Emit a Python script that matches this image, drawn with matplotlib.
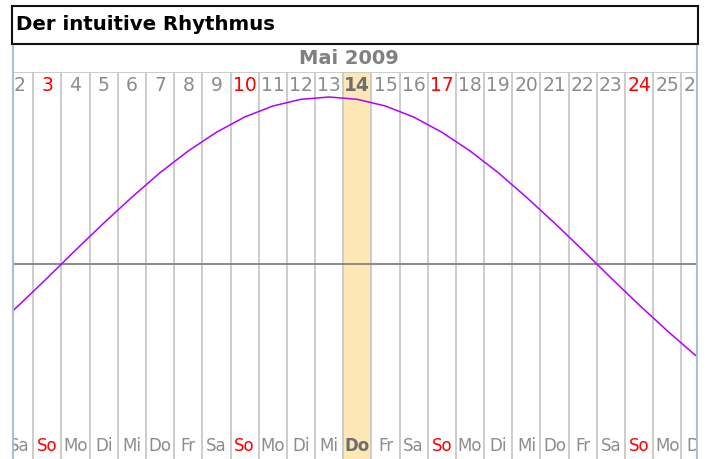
import matplotlib
matplotlib.use("Agg")
import matplotlib.pyplot as plt
from matplotlib.patches import Rectangle
from matplotlib.lines import Line2D
import matplotlib.transforms as mtransforms

# data
days = list(range(1, 27))
weekdays = ['Fr', 'Sa', 'So', 'Mo', 'Di', 'Mi', 'Do', 'Fr', 'Sa', 'So', 'Mo', 'Di', 'Mi',
            'Do', 'Fr', 'Sa', 'So', 'Mo', 'Di', 'Mi', 'Do', 'Fr', 'Sa', 'So', 'Mo', 'Di']
rhythm = [-0.40, -0.245, -0.083, 0.083, 0.245, 0.40, 0.547, 0.677, 0.789, 0.88, 0.946, 0.986, 1.0,
          0.986, 0.946, 0.88, 0.789, 0.677, 0.547, 0.40, 0.245, 0.083, -0.083, -0.245, -0.40, -0.547]
today = 14
title = 'Der intuitive Rhythmus'
month_label = 'Mai 2009'

W, H = 712, 459
fig = plt.figure(figsize=(W / 100, H / 100), dpi=100)

def fx(px):
    return px / W

def fy(py):
    return 1 - py / H

# title box
fig.patches.append(Rectangle((fx(12), fy(44)), fx(686), 38 / H, transform=fig.transFigure,
                             facecolor='white', edgecolor='#111111', linewidth=1.5))
fig.text(fx(16), fy(25), title, fontsize=14.2, fontweight='bold', color='black',
         va='center', ha='left')

# outer frame (blue sides)
for px in (13, 697):
    fig.lines.append(Line2D([fx(px), fx(px)], [fy(46), 0], transform=fig.transFigure,
                            color='#a8bfdc', linewidth=1.5))

fig.text(fx(349), fy(59), month_label, fontsize=14, fontweight='bold', color='#808080',
         ha='center', va='center')

# plot area: from the line below the month label to the bottom
ax = fig.add_axes([fx(13), 0, fx(683), fy(72)])
ax.set_xlim(1.78, 26.02)
ymin, ymax = -(H - 264) / 167, (264 - 72) / 167
ax.set_ylim(ymin, ymax)
ax.axis('off')

ax.axvspan(today - 0.5, today + 0.5, color='#fde7b5', zorder=0, linewidth=0)
for d in days:
    ax.axvline(d + 0.5, color='#c8c8c8', linewidth=1.3, zorder=1)
ax.axhline(ymax, color='#c8c8c8', linewidth=1.3, zorder=1)
ax.axhline(0, color='#8a8a8a', linewidth=1.4, zorder=2)
ax.plot(days, rhythm, color='#b000ff', linewidth=1.1, zorder=3)

trans = mtransforms.blended_transform_factory(ax.transData, ax.transAxes)
for d, wd in zip(days, weekdays):
    sunday = wd == 'So'
    bold = d == today
    col = '#ff0000' if sunday else ('#6e6e6e' if bold else '#8c8c8c')
    fw = 'bold' if bold else 'normal'
    ax.text(d, 0.966, str(d), transform=trans, ha='center', va='center', fontsize=13.5,
            color=col, fontweight=fw, clip_on=True)
    ax.text(d, 0.034, wd, transform=trans, ha='center', va='center', fontsize=12,
            color=col, fontweight=fw, clip_on=True)

fig.savefig('out.png', dpi=100)
